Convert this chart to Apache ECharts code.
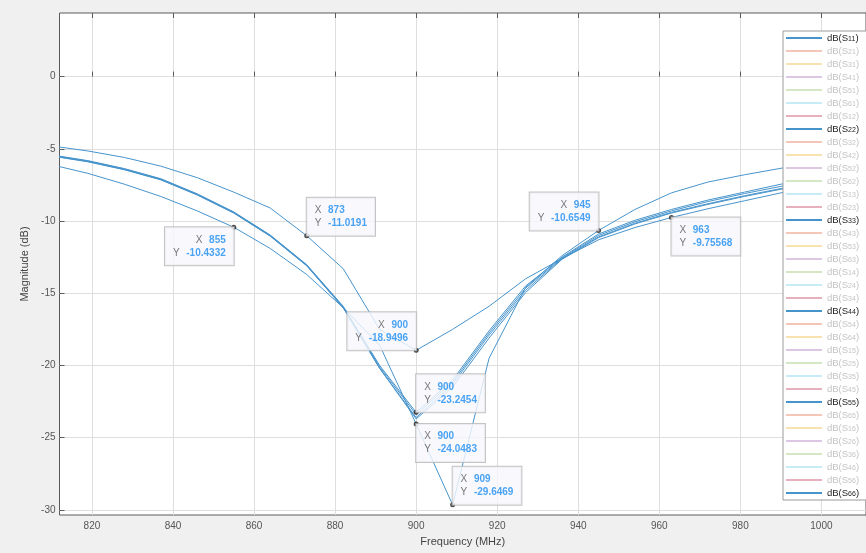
<!DOCTYPE html>
<html><head><meta charset="utf-8">
<script src="https://cdn.jsdelivr.net/npm/echarts@6/dist/echarts.min.js"></script>
<style>html,body{margin:0;padding:0;background:#f0f0f0}#c{width:866px;height:553px}</style>
</head><body><div id="c"></div>
<script>
// ---- data ----
const freq = [810, 819, 828, 837, 846, 855, 864, 873, 882, 891, 900, 909, 918, 927, 936, 945, 954, 963, 972, 981, 990, 999, 1008, 1017];
const s11 = [-4.8, -5.15, -5.6, -6.2, -7.0, -8.0, -9.1, -11.0191, -13.3, -17.5, -18.9496, -17.5, -15.9, -14.0, -12.6, -11.3, -10.45, -9.75568, -9.15, -8.6, -8.05, -7.65, -7.3, -7.0];
const s22 = [-5.42, -5.82, -6.37, -7.07, -8.12, -9.37, -10.97, -13.02, -15.9, -20.0, -23.2454, -21.0, -17.6, -14.5, -12.5, -10.9, -9.95, -9.2, -8.55, -8.0, -7.45, -7.05, -6.7, -6.4];
const s33 = [-5.5, -5.9, -6.45, -7.15, -8.2, -9.45, -11.05, -13.1, -16.0, -20.2, -23.6, -21.3, -17.9, -14.8, -12.6, -11.1, -10.15, -9.4, -8.8, -8.25, -7.75, -7.35, -7.0, -6.7];
const s44 = [-6.1, -6.7, -7.45, -8.3, -9.3, -10.4332, -11.9, -13.7, -16.0, -18.6, -24.0483, -29.6469, -19.5, -14.6, -12.4, -10.6549, -9.2, -8.05, -7.3, -6.8, -6.35, -5.95, -5.6, -5.3];
const s55 = [-5.45, -5.85, -6.4, -7.1, -8.15, -9.4, -11.0, -13.05, -15.95, -20.1, -23.4, -21.15, -17.75, -14.65, -12.55, -11.0, -10.05, -9.3, -8.65, -8.1, -7.6, -7.2, -6.85, -6.55];
const s66 = [-5.48, -5.88, -6.43, -7.13, -8.18, -9.43, -11.03, -13.08, -16.0, -20.2, -23.7, -21.5, -18.1, -14.95, -12.65, -11.15, -10.2, -9.45, -8.85, -8.3, -7.8, -7.4, -7.05, -6.75];
const tipX = [855, 873, 900, 900, 900, 909, 945, 963];
const tipY = [-10.4332, -11.0191, -18.9496, -23.2454, -24.0483, -29.6469, -10.6549, -9.75568];
const xTicks = [820, 840, 860, 880, 900, 920, 940, 960, 980, 1000, 1020];
const yTicks = [-30, -25, -20, -15, -10, -5, 0];
const sParams = ['11','21','31','41','51','61','12','22','32','42','52','62','13','23','33','43','53','63','14','24','34','44','54','64','15','25','35','45','55','65','16','26','36','46','56','66'];
const shown = {'11': s11, '22': s22, '33': s33, '44': s44, '55': s55, '66': s66};

// ---- styles ----
const BLUE = '#4794cc';
const cycle = [BLUE, '#f3c6b6', '#f7e2b0', '#dcc6e2', '#d5e7c2', '#c8ebf8', '#e6b0bc'];
// placement of each data tip box relative to its point: [align, verticalAlign]
const tipPlace = [['right','top'],['left','bottom'],['right','bottom'],['left','bottom'],['left','top'],['left','bottom'],['right','bottom'],['left','top']];
const FONT = 'Liberation Sans, Arial, sans-serif';

const series = sParams.map((p, i) => {
  const d = shown[p];
  const col = d ? BLUE : cycle[i % 7];
  return {
    name: 'dB(S' + p + ')',
    type: 'line',
    data: d ? freq.map((f, k) => [f, d[k]]) : [],
    color: col,
    showSymbol: false,
    symbol: 'none',
    silent: true,
    lineStyle: { width: 1, color: col },
    z: 3
  };
});

series.push({
  type: 'scatter',
  data: tipX.map((x, i) => ({
    value: [x, tipY[i]],
    label: { align: tipPlace[i][0], verticalAlign: tipPlace[i][1] }
  })),
  symbol: 'circle',
  symbolSize: 5,
  itemStyle: { color: '#1e1e1e' },
  silent: true,
  z: 10,
  label: {
    show: true,
    position: 'inside',
    formatter: p => '{k|X}  {v|' + tipX[p.dataIndex] + '}\n{k|Y}  {v|' + tipY[p.dataIndex] + '}',
    backgroundColor: '#f8f8fc',
    borderColor: '#b5b5b5',
    borderWidth: 1,
    padding: [6, 8, 6, 8],
    lineHeight: 13,
    rich: {
      k: { color: '#555', fontSize: 10, fontFamily: FONT, lineHeight: 13 },
      v: { color: '#1d8cf0', fontSize: 10, fontWeight: 'bold', fontFamily: FONT, lineHeight: 13 }
    }
  }
});

const chart = echarts.init(document.getElementById('c'));
chart.setOption({
  backgroundColor: '#f0f0f0',
  animation: false,
  textStyle: { fontFamily: FONT },
  grid: { left: 59.5, top: 13, right: -1, bottom: 38, show: true, backgroundColor: '#ffffff', borderColor: '#5a5a5a', borderWidth: 1 },
  xAxis: [{
    type: 'value', min: 812, max: 1011,
    name: 'Frequency (MHz)', nameLocation: 'middle', nameGap: 21,
    nameTextStyle: { color: '#444', fontSize: 11, fontFamily: FONT },
    axisLine: { show: false },
    axisTick: { show: true, inside: true, length: 5, customValues: xTicks, lineStyle: { color: '#5a5a5a' } },
    axisLabel: { customValues: xTicks, color: '#555', fontSize: 10, margin: 6, fontFamily: FONT, formatter: v => String(v) },
    splitLine: { show: true, customValues: xTicks, lineStyle: { color: '#dedede', width: 1 } }
  }, {
    type: 'value', min: 812, max: 1011, position: 'top',
    axisLine: { show: false },
    axisTick: { show: true, inside: true, length: 5, customValues: xTicks, lineStyle: { color: '#5a5a5a' } },
    axisLabel: { show: false },
    splitLine: { show: false }
  }],
  yAxis: [{
    type: 'value', min: -30.35, max: 4.4,
    name: 'Magnitude (dB)', nameLocation: 'middle', nameGap: 23,
    nameTextStyle: { color: '#444', fontSize: 11, fontFamily: FONT },
    axisLine: { show: false },
    axisTick: { show: true, inside: true, length: 5, customValues: yTicks, lineStyle: { color: '#5a5a5a' } },
    axisLabel: { customValues: yTicks, color: '#555', fontSize: 10, margin: 4, fontFamily: FONT },
    splitLine: { show: true, customValues: yTicks, lineStyle: { color: '#dedede', width: 1 } }
  }],
  legend: {
    orient: 'vertical', left: 783, top: 31,
    padding: [2, 40, 2, 3],
    itemGap: 3, itemWidth: 36, itemHeight: 2,
    icon: 'rect',
    selectedMode: false,
    backgroundColor: '#ffffff', borderColor: '#9a9a9a', borderWidth: 1,
    data: sParams.map(p => 'dB(S' + p + ')'),
    formatter: name => {
      const p = name.slice(4, 6);
      return shown[p] ? '{a|dB(S}{b|' + p + '}{a|)}' : '{c|dB(S}{d|' + p + '}{c|)}';
    },
    textStyle: {
      fontFamily: FONT,
      rich: {
        a: { fontSize: 9.5, color: '#222', lineHeight: 10 },
        b: { fontSize: 7, color: '#222', lineHeight: 10, verticalAlign: 'bottom', padding: [3, 0, 0, 0] },
        c: { fontSize: 9.5, color: '#c4c4c4', lineHeight: 10 },
        d: { fontSize: 7, color: '#c4c4c4', lineHeight: 10, verticalAlign: 'bottom', padding: [3, 0, 0, 0] }
      }
    }
  },
  series: series
});
</script>
</body></html>
